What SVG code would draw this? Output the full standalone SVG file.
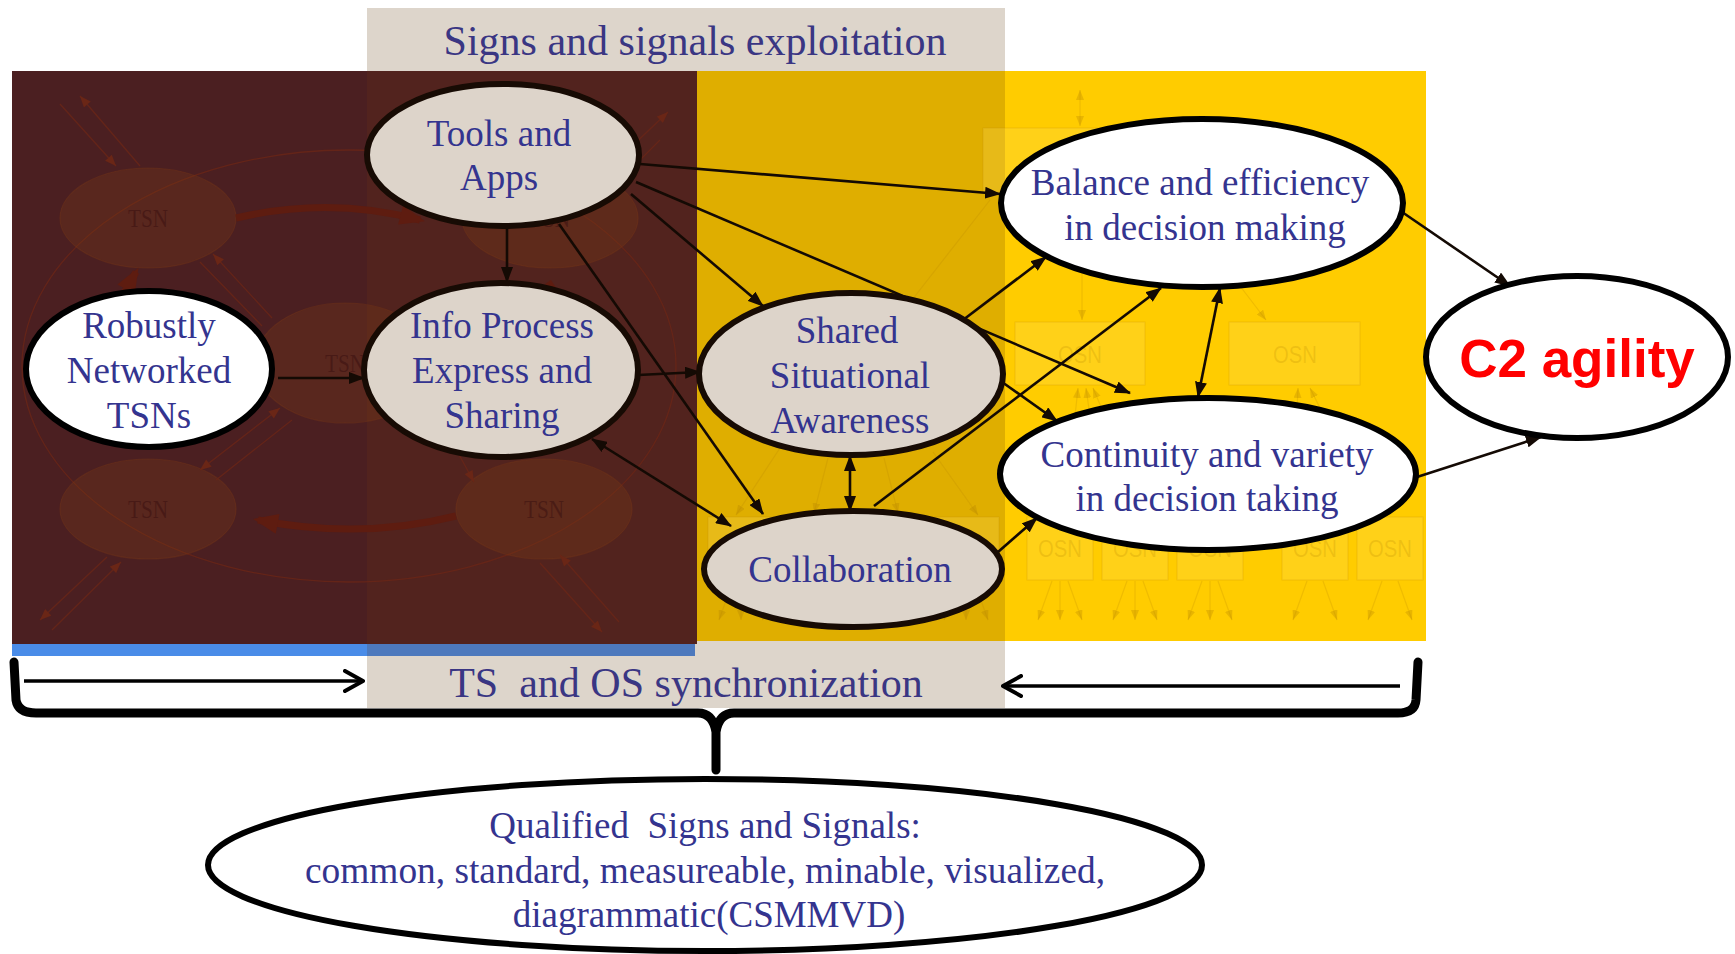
<svg xmlns="http://www.w3.org/2000/svg" width="1735" height="954" viewBox="0 0 1735 954">
  <defs>
    <marker id="arw" viewBox="0 0 16 12" refX="15" refY="6" markerWidth="16" markerHeight="12" markerUnits="userSpaceOnUse" orient="auto-start-reverse">
      <path d="M0,0 L16,6 L0,12 z" fill="#140A04"/>
    </marker>
    <marker id="faintRed" viewBox="0 0 10 8" refX="10" refY="4" markerWidth="12" markerHeight="9" markerUnits="userSpaceOnUse" orient="auto-start-reverse">
      <path d="M0,0 L10,4 L0,8 z" fill="#6A2616"/>
    </marker>
    <marker id="faintRedBig" viewBox="0 0 10 8" refX="8" refY="4" markerWidth="26" markerHeight="20" markerUnits="userSpaceOnUse" orient="auto">
      <path d="M0,0 L10,4 L0,8 z" fill="#5E1C10"/>
    </marker>
    <marker id="faintYel" viewBox="0 0 10 8" refX="10" refY="4" markerWidth="10" markerHeight="8" markerUnits="userSpaceOnUse" orient="auto-start-reverse">
      <path d="M0,0 L10,4 L0,8 z" fill="#B48200" fill-opacity="0.3"/>
    </marker>
    <marker id="open" viewBox="0 0 22 24" refX="20" refY="12" markerWidth="22" markerHeight="24" markerUnits="userSpaceOnUse" orient="auto">
      <path d="M2,2 L20,12 L2,22" fill="none" stroke="#000" stroke-width="4" stroke-linecap="round" stroke-linejoin="round"/>
    </marker>
  </defs>
  <style>
    .node-beige { fill:#DDD4CA; stroke:#170B04; stroke-width:6; }
    .node-white { fill:#FFFFFF; stroke:#000000; stroke-width:6; }
    .lbl { font-family:"Liberation Serif","Times New Roman",serif; font-size:37px; fill:#34348F; text-anchor:middle; }
    .band { font-family:"Liberation Serif","Times New Roman",serif; font-size:42px; fill:#3A3683; text-anchor:middle; }
    .edge { stroke:#140A04; stroke-width:2.6; fill:none; marker-end:url(#arw); }
    .edge2 { stroke:#140A04; stroke-width:2.6; fill:none; marker-start:url(#arw); marker-end:url(#arw); }
    .tsn { fill:#7A3A18; fill-opacity:0.3; stroke:#7A3A18; stroke-opacity:0.35; stroke-width:1.2; }
    .tsn-t { font-family:"Liberation Serif","Times New Roman",serif; font-size:26px; fill:#3A1010; fill-opacity:0.55; text-anchor:middle; }
    .tline { stroke:#6A2616; stroke-opacity:0.8; stroke-width:1.3; fill:none; }
    .osn { fill:#FFE060; fill-opacity:0.25; stroke:#B48200; stroke-opacity:0.18; stroke-width:1.2; }
    .osn-t { font-family:"Liberation Sans",Arial,sans-serif; font-size:24px; fill:#B48200; fill-opacity:0.22; text-anchor:middle; }
    .yline { stroke:#B48200; stroke-opacity:0.22; stroke-width:1.2; fill:none; }
  </style>

  <rect width="1735" height="954" fill="#FFFFFF"/>

  <!-- background panels -->
  <g id="panels">
    <rect x="367" y="8" width="638" height="700" fill="#DDD5CB"/>
    <rect x="12" y="71" width="355" height="573" fill="#4B1F21"/>
    <rect x="367" y="71" width="330" height="573" fill="#52231E"/>
    <rect x="697" y="71" width="308" height="570" fill="#DFAE00"/>
    <rect x="1005" y="71" width="421" height="570" fill="#FFCC00"/>
    <rect x="12" y="644" width="355" height="12" fill="#4A8CE8"/>
    <rect x="367" y="644" width="328" height="12" fill="#4D79BD"/>
  </g>

  <!-- faint TSN network drawn in the dark panel -->
  <g id="tsn-backdrop">
    <ellipse cx="349" cy="366" rx="327" ry="216" class="tline" stroke-opacity="0.45"/>
    <ellipse cx="148" cy="218" rx="88" ry="50" class="tsn"/>
    <ellipse cx="550" cy="218" rx="88" ry="50" class="tsn"/>
    <ellipse cx="345" cy="363" rx="90" ry="60" class="tsn"/>
    <ellipse cx="148" cy="509" rx="88" ry="50" class="tsn"/>
    <ellipse cx="544" cy="509" rx="88" ry="50" class="tsn"/>
    <text x="148" y="227" class="tsn-t" textLength="40" lengthAdjust="spacingAndGlyphs">TSN</text>
    <text x="550" y="227" class="tsn-t" textLength="40" lengthAdjust="spacingAndGlyphs">TSN</text>
    <text x="345" y="372" class="tsn-t" textLength="40" lengthAdjust="spacingAndGlyphs">TSN</text>
    <text x="148" y="518" class="tsn-t" textLength="40" lengthAdjust="spacingAndGlyphs">TSN</text>
    <text x="544" y="518" class="tsn-t" textLength="40" lengthAdjust="spacingAndGlyphs">TSN</text>
    <!-- thick loop arcs -->
    <path d="M236,218 Q330,196 420,220" stroke="#5E1C10" stroke-width="7" fill="none" marker-end="url(#faintRedBig)"/>
    <path d="M456,516 Q360,540 258,520" stroke="#5E1C10" stroke-width="7" fill="none" marker-end="url(#faintRedBig)"/>
    <path d="M120,300 L136,272" stroke="#5E1C10" stroke-width="7" fill="none" marker-end="url(#faintRedBig)"/>
    <path d="M560,300 L548,282" stroke="#5E1C10" stroke-width="7" fill="none"/>
    <!-- corner links -->
    <path d="M60,104 L116,166" class="tline" marker-end="url(#faintRed)"/>
    <path d="M140,166 L80,96" class="tline" marker-end="url(#faintRed)"/>
    <path d="M107,557 L40,620" class="tline" marker-end="url(#faintRed)"/>
    <path d="M52,630 L121,562" class="tline" marker-end="url(#faintRed)"/>
    <path d="M540,563 L602,632" class="tline" marker-end="url(#faintRed)"/>
    <path d="M619,622 L560,555" class="tline" marker-end="url(#faintRed)"/>
    <path d="M628,150 L668,112" class="tline" marker-end="url(#faintRed)"/>
    <path d="M640,160 L660,140" class="tline"/>
    <!-- links to the centre node -->
    <path d="M272,318 L213,254" class="tline" marker-end="url(#faintRed)"/>
    <path d="M200,262 L262,326" class="tline"/>
    <path d="M200,470 L280,408" class="tline" marker-start="url(#faintRed)" marker-end="url(#faintRed)"/>
    <path d="M216,480 L292,420" class="tline"/>
    <path d="M440,420 L474,482" class="tline" marker-end="url(#faintRed)"/>
    <path d="M480,410 L510,460" class="tline"/>
  </g>

  <!-- faint OSN network drawn in the yellow panel -->
  <g id="osn-backdrop">
    <rect x="983" y="128" width="129" height="64" class="osn"/>
    <path d="M1080,90 L1080,126" class="yline" marker-start="url(#faintYel)" marker-end="url(#faintYel)"/>
    <rect x="1015" y="322" width="130" height="63" class="osn"/>
    <rect x="1229" y="322" width="131" height="63" class="osn"/>
    <text x="1080" y="363" class="osn-t" textLength="44" lengthAdjust="spacingAndGlyphs">OSN</text>
    <text x="1295" y="363" class="osn-t" textLength="44" lengthAdjust="spacingAndGlyphs">OSN</text>
    <path d="M1082,272 L1082,320" class="yline" marker-end="url(#faintYel)"/>
    <path d="M1240,286 L1266,320" class="yline" marker-end="url(#faintYel)"/>
    <path d="M990,200 L912,300" class="yline"/>
    <path d="M1075,416 L1078,388" class="yline" marker-end="url(#faintYel)"/>
    <path d="M1090,416 L1086,388" class="yline" marker-end="url(#faintYel)"/>
    <path d="M1104,414 L1093,388" class="yline" marker-end="url(#faintYel)"/>
    <path d="M1297,410 L1298,388" class="yline" marker-end="url(#faintYel)"/>
    <path d="M1322,412 L1310,388" class="yline" marker-end="url(#faintYel)"/>
    <!-- lines dropping from the hidden middle box -->
    <path d="M780,448 L736,515" class="yline" marker-end="url(#faintYel)"/>
    <path d="M828,458 L814,513" class="yline" marker-end="url(#faintYel)"/>
    <path d="M884,458 L898,513" class="yline" marker-end="url(#faintYel)"/>
    <path d="M933,452 L978,515" class="yline" marker-end="url(#faintYel)"/>
    <!-- bottom row of boxes -->
    <rect x="708" y="517" width="66" height="63" class="osn"/>
    <rect x="783" y="517" width="66" height="63" class="osn"/>
    <rect x="858" y="517" width="66" height="63" class="osn"/>
    <rect x="933" y="517" width="66" height="63" class="osn"/>
    <rect x="1027" y="517" width="66" height="63" class="osn"/>
    <rect x="1102" y="517" width="66" height="63" class="osn"/>
    <rect x="1177" y="517" width="66" height="63" class="osn"/>
    <rect x="1282" y="517" width="66" height="63" class="osn"/>
    <rect x="1357" y="517" width="66" height="63" class="osn"/>
    <text x="1060" y="557" class="osn-t" textLength="44" lengthAdjust="spacingAndGlyphs">OSN</text>
    <text x="1135" y="557" class="osn-t" textLength="44" lengthAdjust="spacingAndGlyphs">OSN</text>
    <text x="1210" y="557" class="osn-t" textLength="44" lengthAdjust="spacingAndGlyphs">OSN</text>
    <text x="1315" y="557" class="osn-t" textLength="44" lengthAdjust="spacingAndGlyphs">OSN</text>
    <text x="1390" y="557" class="osn-t" textLength="44" lengthAdjust="spacingAndGlyphs">OSN</text>
    <!-- fan-out arrows under each box -->
    <g class="yline">
      <path d="M733,581 L719,620" marker-end="url(#faintYel)"/><path d="M741,581 L741,620" marker-end="url(#faintYel)"/><path d="M749,581 L763,620" marker-end="url(#faintYel)"/>
      <path d="M808,581 L794,620" marker-end="url(#faintYel)"/><path d="M816,581 L816,620" marker-end="url(#faintYel)"/><path d="M824,581 L838,620" marker-end="url(#faintYel)"/>
      <path d="M883,581 L869,620" marker-end="url(#faintYel)"/><path d="M891,581 L891,620" marker-end="url(#faintYel)"/><path d="M899,581 L913,620" marker-end="url(#faintYel)"/>
      <path d="M958,581 L944,620" marker-end="url(#faintYel)"/><path d="M966,581 L966,620" marker-end="url(#faintYel)"/><path d="M974,581 L988,620" marker-end="url(#faintYel)"/>
      <path d="M1052,581 L1038,620" marker-end="url(#faintYel)"/><path d="M1060,581 L1060,620" marker-end="url(#faintYel)"/><path d="M1068,581 L1082,620" marker-end="url(#faintYel)"/>
      <path d="M1127,581 L1113,620" marker-end="url(#faintYel)"/><path d="M1135,581 L1135,620" marker-end="url(#faintYel)"/><path d="M1143,581 L1157,620" marker-end="url(#faintYel)"/>
      <path d="M1202,581 L1188,620" marker-end="url(#faintYel)"/><path d="M1210,581 L1210,620" marker-end="url(#faintYel)"/><path d="M1218,581 L1232,620" marker-end="url(#faintYel)"/>
      <path d="M1307,581 L1293,620" marker-end="url(#faintYel)"/><path d="M1323,581 L1337,620" marker-end="url(#faintYel)"/>
      <path d="M1382,581 L1368,620" marker-end="url(#faintYel)"/><path d="M1398,581 L1412,620" marker-end="url(#faintYel)"/>
    </g>
  </g>

  <!-- band titles -->
  <g id="band-top"><text x="695" y="55" class="band">Signs and signals exploitation</text></g>
  <g id="band-bottom"><text x="686" y="697" class="band">TS&#160; and OS synchronization</text></g>

  <!-- connectors -->
  <g id="connectors">
    <path d="M278,378 L364,378" class="edge"/>
    <path d="M507,229 L507,282" class="edge"/>
    <path d="M640,164 L1000,194" class="edge"/>
    <path d="M631,194 L763,306" class="edge"/>
    <path d="M636,182 L1130,393" class="edge"/>
    <path d="M559,224 L763,514" class="edge"/>
    <path d="M638,375 L700,372" class="edge"/>
    <path d="M592,439 L731,526" class="edge2"/>
    <path d="M850,456 L850,511" class="edge2"/>
    <path d="M963,320 L1046,257" class="edge"/>
    <path d="M1002,382 L1057,421" class="edge"/>
    <path d="M874,506 L1161,288" class="edge"/>
    <path d="M1220,288 L1198,397" class="edge2"/>
    <path d="M998,552 L1037,518" class="edge"/>
    <path d="M1402,212 L1510,286" class="edge"/>
    <path d="M1417,477 L1541,437" class="edge"/>
  </g>

  <!-- synchronization brace and its arrows -->
  <g id="brace">
    <path d="M14,662 L16,700 Q18,713 36,713 L698,713 Q713,713 716,732 L716,770 M716,732 Q719,713 734,713 L1398,713 Q1415,713 1416,700 L1418,662" fill="none" stroke="#000" stroke-width="9" stroke-linecap="round" stroke-linejoin="round"/>
    <path d="M24,681 L363,681" stroke="#000" stroke-width="3.5" fill="none" marker-end="url(#open)"/>
    <path d="M1400,686 L1003,686" stroke="#000" stroke-width="3.5" fill="none" marker-end="url(#open)"/>
  </g>

  <!-- nodes -->
  <g id="node-tsns">
    <ellipse cx="149" cy="369" rx="123" ry="78" class="node-white"/>
    <text class="lbl"><tspan x="149" y="338">Robustly</tspan><tspan x="149" y="383">Networked</tspan><tspan x="149" y="428">TSNs</tspan></text>
  </g>
  <g id="node-tools">
    <ellipse cx="503" cy="155" rx="136" ry="71" class="node-beige"/>
    <text class="lbl"><tspan x="499" y="146">Tools and</tspan><tspan x="499" y="190">Apps</tspan></text>
  </g>
  <g id="node-info">
    <ellipse cx="501" cy="370" rx="137" ry="87" class="node-beige"/>
    <text class="lbl"><tspan x="502" y="338">Info Process</tspan><tspan x="502" y="383">Express and</tspan><tspan x="502" y="428">Sharing</tspan></text>
  </g>
  <g id="node-ssa">
    <ellipse cx="851" cy="374" rx="152" ry="81" class="node-beige"/>
    <text class="lbl"><tspan x="847" y="343">Shared</tspan><tspan x="850" y="388">Situational</tspan><tspan x="850" y="433">Awareness</tspan></text>
  </g>
  <g id="node-collab">
    <ellipse cx="853" cy="569" rx="149" ry="58" class="node-beige"/>
    <text x="850" y="582" class="lbl">Collaboration</text>
  </g>
  <g id="node-balance">
    <ellipse cx="1202" cy="203" rx="201" ry="84" class="node-white"/>
    <text class="lbl"><tspan x="1200" y="195">Balance and efficiency</tspan><tspan x="1205" y="240">in decision making</tspan></text>
  </g>
  <g id="node-continuity">
    <ellipse cx="1208" cy="474" rx="208" ry="76" class="node-white"/>
    <text class="lbl"><tspan x="1207" y="467">Continuity and variety</tspan><tspan x="1207" y="511">in decision taking</tspan></text>
  </g>
  <g id="node-c2">
    <ellipse cx="1577" cy="357" rx="151" ry="81" class="node-white" stroke-width="5"/>
    <text x="1577" y="377" font-family="'Liberation Sans',Arial,sans-serif" font-size="53" font-weight="bold" fill="#FF0000" text-anchor="middle">C2 agility</text>
  </g>
  <g id="node-qualified">
    <ellipse cx="705" cy="865" rx="497" ry="86" fill="#FFFFFF" stroke="#000" stroke-width="6"/>
    <text class="lbl" font-size="35"><tspan x="705" y="838">Qualified&#160; Signs and Signals:</tspan><tspan x="705" y="883" textLength="800" lengthAdjust="spacingAndGlyphs">common, standard, measureable, minable, visualized,</tspan><tspan x="709" y="927">diagrammatic(CSMMVD)</tspan></text>
  </g>
</svg>
